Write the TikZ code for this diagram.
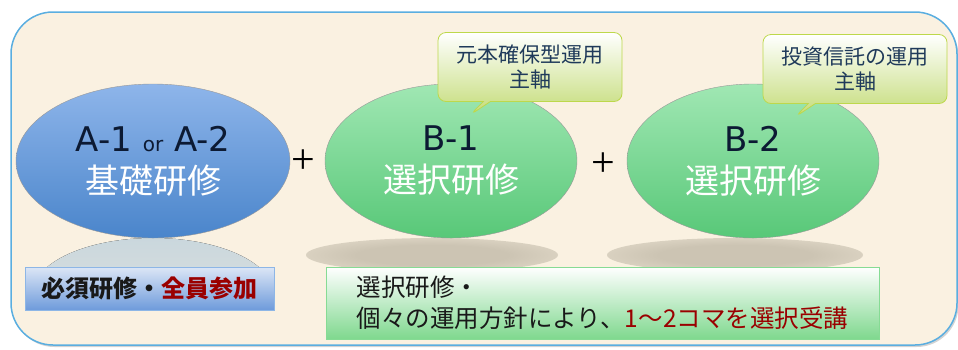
\documentclass[tikz,border=0pt]{standalone}
\usepackage{fontspec}
\setmainfont{Noto Sans CJK JP}
\newfontfamily\latinfont{DejaVu Sans}
\newfontfamily\plusfont{Liberation Serif}
\usetikzlibrary{positioning}
\usetikzlibrary{shapes.geometric}
\usetikzlibrary{shapes.callouts}
\usetikzlibrary{shadows}

\definecolor{paper}{HTML}{FAF1E1}
\definecolor{framecol}{HTML}{5AAEE0}
\definecolor{navy}{HTML}{0C1A33}
\definecolor{tipnavy}{HTML}{1F3A5A}
\definecolor{darkred}{HTML}{9A0000}
\definecolor{shadowgray}{HTML}{CCC4B3}
\definecolor{blueTop}{HTML}{8EB5EA}
\definecolor{blueBot}{HTML}{4A85CB}
\definecolor{greenTop}{HTML}{A0E7B3}
\definecolor{greenBot}{HTML}{58C878}
\definecolor{tipBot}{HTML}{C4DC78}
\definecolor{tipLine}{HTML}{BDD84B}
\definecolor{mustTop}{HTML}{DCE6F6}
\definecolor{mustBot}{HTML}{6E9BDB}
\definecolor{mustLine}{HTML}{8DB6E6}
\definecolor{choiceBot}{HTML}{7FD88E}
\definecolor{choiceLine}{HTML}{86DB94}
\definecolor{mirror}{HTML}{CAD7DD}
\pgfdeclareradialshading{blob}{\pgfpoint{0bp}{0bp}}{color(0bp)=(shadowgray); color(15bp)=(shadowgray); color(50bp)=(paper)}

\begin{document}
\begin{tikzpicture}[x=1pt, y=-1pt,
    course/.style={ellipse, draw=black!40, inner sep=0pt, minimum height=154pt,
      align=center, text=navy, font=\fontsize{34}{42}\selectfont},
    basic/.style={course, minimum width=274pt, top color=blueTop, bottom color=blueBot},
    elective/.style={course, minimum width=252pt, top color=greenTop, bottom color=greenBot},
    tip/.style={rectangle callout, rounded corners=8pt, draw=tipLine, thick,
      top color=white, bottom color=tipBot, minimum width=184pt, minimum height=69pt,
      align=center, text=tipnavy, font=\fontsize{21}{25}\selectfont},
    notebox/.style={rectangle, inner sep=0pt, align=left, text=black!90},
    plus/.style={font=\plusfont\fontsize{42}{42}\selectfont}]
  \useasboundingbox (0,0) rectangle (958,349);
  % frame
  \draw[framecol, line width=1.5pt, fill=paper, rounded corners=42pt,
    drop shadow={shadow xshift=1.5pt, shadow yshift=-2pt, opacity=0.35}] (11,12) rectangle (957,345);
  % reflection and shadows
  \begin{scope}
    \clip (0,236) rectangle (958,270);
    \fill[top color=mirror, bottom color=paper!55!mirror] (153,293) ellipse [x radius=120, y radius=55];
  \end{scope}
  \shade[shading=blob] (432,255) ellipse [x radius=126, y radius=17];
  \shade[shading=blob] (735,255) ellipse [x radius=128, y radius=17];

  \node[notebox, draw=mustLine, top color=mustTop, bottom color=mustBot,
    minimum width=249pt, minimum height=43pt, font=\bfseries\fontsize{24}{28}\selectfont]
    (mustbox) at (149.5,288.5) {必須研修・{\color{darkred}全員参加}};
  \node[notebox, draw=choiceLine, top color=white, bottom color=choiceBot,
    minimum width=553pt, minimum height=72pt, font=\fontsize{24.5}{31}\selectfont]
    (choicebox) at (602.5,303) {選択研修・\\個々の運用方針により、{\color{darkred}1～2コマを選択受講}};

  \node[basic] (A) at (153,161) {{\latinfont A-1 {\fontsize{20}{20}\selectfont or} A-2}\\{\color{white}基礎研修}};
  \node[elective] (B1) at (451,161) {{\latinfont B-1}\\{\color{white}選択研修}};
  \node[elective] (B2) at (753,161) {{\latinfont B-2}\\{\color{white}選択研修}};

  \node[plus] (plusA) at (303,162) {+};
  \node[plus] (plusB) at (603,165) {+};

  \node[tip, callout absolute pointer={(470,115)}] (tipB1) at (530,67) {元本確保型運用\\主軸};
  \node[tip, callout absolute pointer={(795,117)}] (tipB2) at (855,69) {投資信託の運用\\主軸};
\end{tikzpicture}
\end{document}
